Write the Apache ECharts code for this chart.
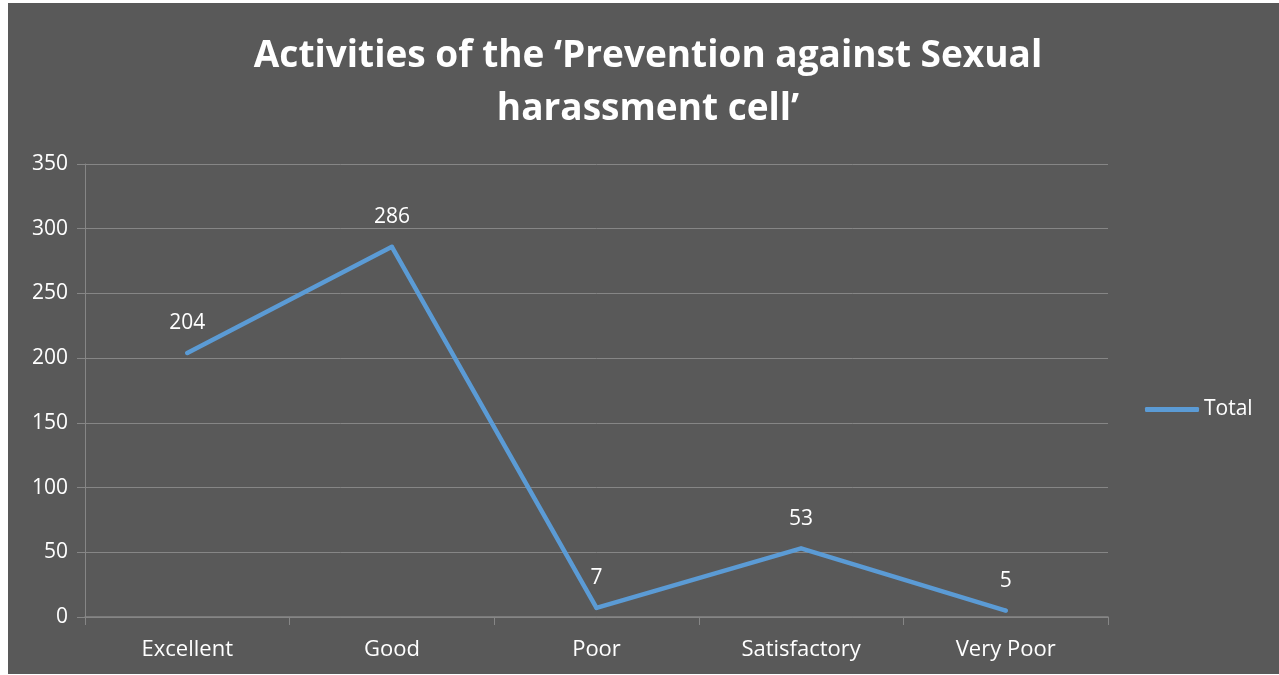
<!DOCTYPE html>
<html><head><meta charset="utf-8">
<script src="https://cdn.jsdelivr.net/npm/echarts@6/dist/echarts.min.js"></script>
<style>
html,body{margin:0;padding:0;background:#fff;}
#c{position:absolute;left:8px;top:3px;width:1271px;height:671px;background:#595959;}
</style></head><body>
<div id="c"></div>
<script>
const categories = ['Excellent','Good','Poor','Satisfactory','Very Poor'];
const totalValues = [204, 286, 7, 53, 5];
const yTicks = [0, 50, 100, 150, 200, 250, 300, 350];
const seriesName = 'Total';
const titleText = 'Activities of the \u2018Prevention against Sexual\nharassment cell\u2019';

const chart = echarts.init(document.getElementById('c'));
const font = "'Open Sans', 'Noto Sans', sans-serif";
chart.setOption({
  backgroundColor: '#595959',
  animation: false,
  textStyle: {fontFamily: font},
  title: {
    text: titleText, left: 635, top: 22, textAlign: 'center',
    textStyle: {color: '#ffffff', fontSize: 37, fontWeight: 'bold', lineHeight: 53, fontFamily: font}
  },
  legend: {
    data: [seriesName], left: 1132, top: 391, itemWidth: 54, itemHeight: 5, itemGap: 4,
    icon: 'roundRect',
    itemStyle: {color: '#5B9BD5', opacity: 1},
    textStyle: {color: '#ffffff', fontSize: 21, fontFamily: font}
  },
  grid: {left: 77, right: 171, top: 161, bottom: 57},
  xAxis: {
    type: 'category', data: categories, boundaryGap: true,
    axisLine: {lineStyle: {color: '#868686', width: 1.5}},
    axisTick: {show: true, length: 8, lineStyle: {color: '#868686'}},
    axisLabel: {color: '#ffffff', fontSize: 22, margin: 22, fontFamily: font}
  },
  yAxis: {
    type: 'value', min: yTicks[0], max: yTicks[yTicks.length-1], interval: 50,
    axisLine: {show: true, lineStyle: {color: '#868686'}},
    axisTick: {show: true, length: 8, lineStyle: {color: '#868686'}},
    splitLine: {lineStyle: {color: '#868686', width: 1}},
    axisLabel: {color: '#ffffff', fontSize: 21, margin: 17, fontFamily: font}
  },
  series: [{
    name: seriesName, type: 'line', data: totalValues,
    symbol: 'circle', symbolSize: 4, showSymbol: true,
    lineStyle: {color: '#5B9BD5', width: 4.5, cap: 'round', join: 'round'},
    itemStyle: {color: '#5B9BD5'},
    label: {show: true, position: 'top', distance: 17, color: '#ffffff', fontSize: 21, fontFamily: font}
  }]
});
</script>
</body></html>
